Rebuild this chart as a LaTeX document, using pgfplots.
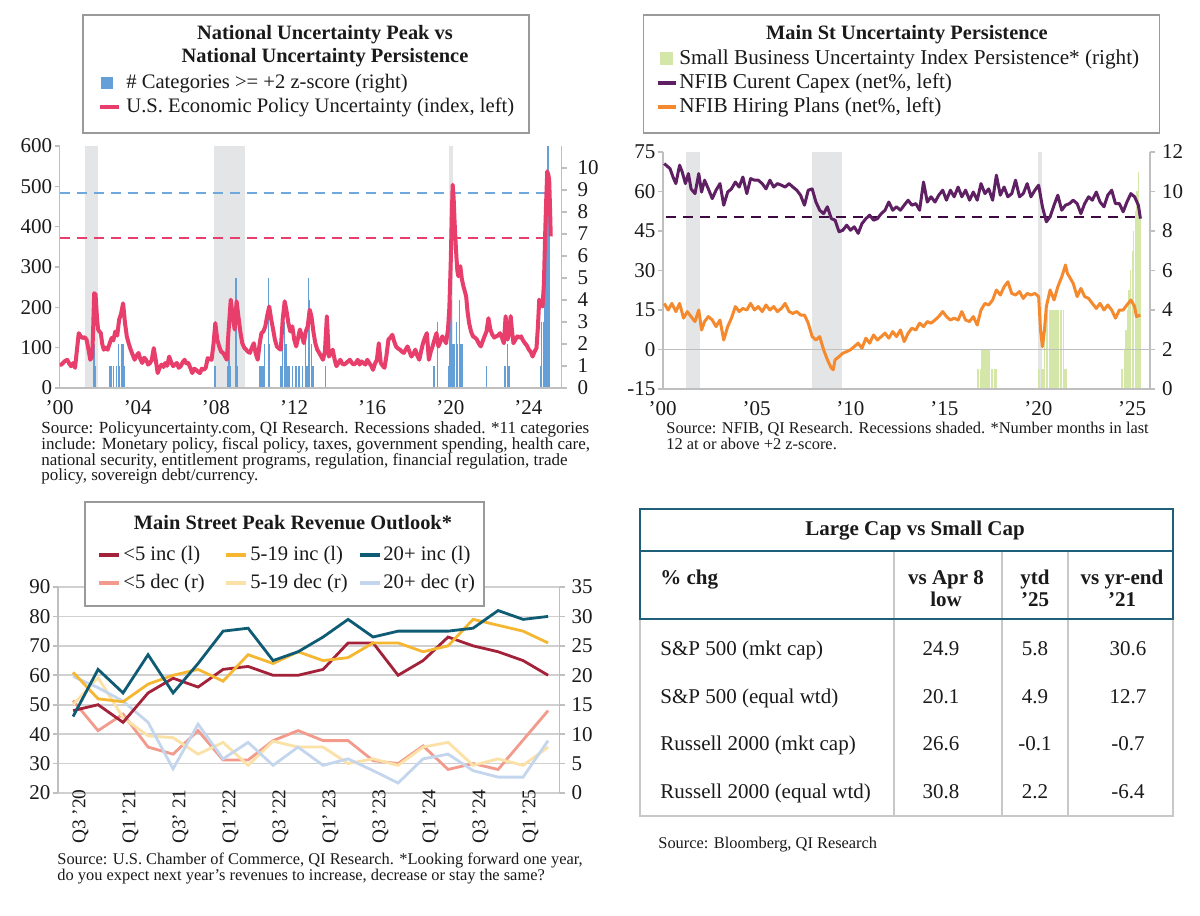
\documentclass[border=0pt]{standalone}
\usepackage{fontspec}
\setmainfont{Liberation Serif}
\usepackage{pgfplots}
\pgfplotsset{compat=1.18}
\definecolor{epu}{HTML}{E83E6C}
\definecolor{barblue}{HTML}{64A0D7}
\definecolor{dashblue}{HTML}{6FA8DC}
\definecolor{recgray}{HTML}{E4E5E7}
\definecolor{axgray}{HTML}{BFBFBF}
\definecolor{gridgray}{HTML}{D0D0D0}
\definecolor{legbord}{HTML}{9A9A9A}
\definecolor{capex}{HTML}{5E1F63}
\definecolor{capdash}{HTML}{3C0A40}
\definecolor{hire}{HTML}{F5892E}
\definecolor{sbgreen}{HTML}{D4E7A9}
\definecolor{cdred}{HTML}{A3223A}
\definecolor{cyel}{HTML}{F5B731}
\definecolor{cteal}{HTML}{0F5B73}
\definecolor{csal}{HTML}{F29A8C}
\definecolor{clyel}{HTML}{FCE1A6}
\definecolor{clblue}{HTML}{C4D6ED}
\definecolor{tteal}{HTML}{1E5F7C}
\definecolor{tgray}{HTML}{C8C8C8}
\definecolor{txt}{HTML}{1A1A1A}
\newcommand{\fT}{\fontsize{10.5}{12}\selectfont}
\newcommand{\fL}{\fontsize{10.3}{11}\selectfont}
\newcommand{\fLtwo}{\fontsize{10.6}{11}\selectfont}
\newcommand{\fLb}{\fontsize{10.2}{11}\selectfont\bfseries}
\newcommand{\fSa}{\fontsize{8.5}{9}\selectfont}
\newcommand{\fS}{\fontsize{8.2}{9}\selectfont}
\newcommand{\fTab}{\fontsize{10.5}{12}\selectfont}
\pgfplotsset{
  qibase/.style={scale only axis, anchor=south west,
    axis line style={draw=axgray, line width=0.8pt},
    tick style={draw=axgray, line width=0.8pt},
    tick align=outside, major tick length=2.5pt,
    ticklabel style={font=\fT, text=txt},
    /pgf/number format/assume math mode=true,
    xtick style={draw=none},
  },
  qileft/.style={yticklabel style={inner xsep=1pt}},
}
\begin{document}
\begin{tikzpicture}
\path[use as bounding box] (0,0) rectangle (600pt,458pt);
\fill[white] (0,0) rectangle (600pt,458pt);

% ================= Panel 1 =================
\begin{axis}[qibase, at={(29.8pt,264pt)}, width=250.95pt, height=121pt,
  xmin=2000, xmax=2025.69, ymin=0, ymax=11,
  axis x line=none, axis y line*=right, ytick={0,1,...,10},
  yticklabel style={xshift=2pt}]
\addplot[fill=recgray, draw=none] coordinates {(2001.32,11)(2001.97,11)} \closedcycle;
\addplot[fill=recgray, draw=none] coordinates {(2007.91,11)(2009.47,11)} \closedcycle;
\addplot[fill=recgray, draw=none] coordinates {(2019.92,11)(2020.14,11)} \closedcycle;
\addplot[ycomb, draw=barblue, line width=0.7pt, mark=none] coordinates {
(2001.77,2)(2001.85,1)
(2002.58,1)(2002.67,1)(2002.75,1)(2002.92,1)(2003.0,2)(2003.08,1)(2003.17,2)(2003.25,2)(2003.33,1)
(2007.95,1)
(2008.58,1)(2008.67,2)(2008.75,1)(2009.03,5)(2009.1,1)
(2010.25,1)(2010.33,1)(2010.42,1)(2010.5,2)(2010.68,5)(2010.75,2)
(2011.33,1)(2011.42,2)(2011.5,3)(2011.58,2)(2011.67,1)(2011.75,1)(2011.92,1)
(2012.1,1)(2012.25,1)(2012.42,1)(2012.58,2)(2012.67,1)(2012.73,5)(2012.8,4)(2012.88,2)(2012.97,1)
(2013.62,1)
(2019.16,1)(2019.33,3)
(2019.9,1)(2019.98,5)(2020.06,4)(2020.14,2)(2020.22,2)(2020.3,3)(2020.38,2)(2020.46,4)(2020.54,2)(2020.62,2)
(2021.86,1)
(2022.8,1)(2022.92,2)(2023.0,1)
(2024.6,1)(2024.68,3)(2024.76,3)(2024.84,6)(2024.92,7)(2025.0,11)(2025.08,7)
};
\end{axis}
\begin{axis}[qibase, qileft, at={(29.8pt,264pt)}, width=250.95pt, height=121pt,
  xmin=2000, xmax=2025.69, ymin=0, ymax=600,
  axis x line*=bottom, axis y line*=left, ytick={0,100,...,600},
  xtick={2000,2004,...,2024}, xticklabels={'00,'04,'08,'12,'16,'20,'24}]
\addplot[dashblue, line width=1pt, dash pattern=on 5pt off 3.5pt] coordinates {(2000,483)(2024.9,483)};
\addplot[epu, line width=1pt, dash pattern=on 5pt off 3.5pt] coordinates {(2000,372)(2025.14,372)};
\addplot[epu, line width=2pt, line join=round] coordinates {
(2000.00,58)(2000.10,58)(2000.25,66)(2000.39,70)(2000.50,60)(2000.59,54)(2000.70,62)(2000.79,50)(2000.90,100)(2000.98,136)
(2001.08,128)(2001.18,124)(2001.28,126)(2001.38,120)(2001.48,95)(2001.57,70)(2001.67,79)(2001.72,150)(2001.77,235)(2001.84,232)(2001.92,170)(2001.97,145)
(2002.04,140)(2002.11,136)(2002.18,110)(2002.26,95)(2002.36,100)(2002.46,95)(2002.56,110)(2002.66,124)(2002.75,118)(2002.85,140)(2002.95,130)
(2003.05,170)(2003.15,185)(2003.25,210)(2003.35,160)(2003.44,128)(2003.54,110)(2003.64,95)(2003.74,82)(2003.84,70)(2003.94,80)
(2004.04,87)(2004.13,72)(2004.23,62)(2004.33,75)(2004.43,70)(2004.53,58)(2004.63,62)(2004.72,70)(2004.82,99)(2004.92,70)
(2005.02,37)(2005.12,50)(2005.22,58)(2005.32,52)(2005.41,62)(2005.51,55)(2005.61,78)(2005.71,64)(2005.81,54)(2005.90,58)
(2006.00,62)(2006.10,50)(2006.20,54)(2006.30,64)(2006.40,70)(2006.50,60)(2006.59,62)(2006.69,50)(2006.79,37)(2006.89,48)(2006.99,45)
(2007.09,40)(2007.19,37)(2007.28,48)(2007.38,45)(2007.48,50)(2007.58,74)(2007.68,72)(2007.78,70)(2007.88,110)(2007.97,161)
(2008.07,120)(2008.17,103)(2008.27,90)(2008.37,87)(2008.47,78)(2008.56,70)(2008.66,150)(2008.76,219)(2008.86,178)(2008.96,145)
(2009.06,215)(2009.15,178)(2009.25,140)(2009.35,111)(2009.45,100)(2009.55,95)(2009.64,90)(2009.74,87)(2009.84,100)(2009.94,111)
(2010.04,85)(2010.14,70)(2010.24,110)(2010.33,136)(2010.43,140)(2010.53,153)(2010.63,180)(2010.73,202)(2010.83,170)(2010.93,145)
(2011.02,120)(2011.12,103)(2011.22,98)(2011.32,95)(2011.42,170)(2011.52,215)(2011.62,190)(2011.71,161)(2011.81,140)(2011.91,153)
(2012.01,120)(2012.11,103)(2012.21,125)(2012.30,145)(2012.40,130)(2012.50,111)(2012.60,140)(2012.70,153)(2012.80,194)(2012.89,178)(2012.99,140)
(2013.09,111)(2013.19,95)(2013.29,87)(2013.39,78)(2013.48,70)(2013.58,90)(2013.68,178)(2013.78,78)(2013.88,85)(2013.98,95)
(2014.08,70)(2014.17,54)(2014.27,62)(2014.37,70)(2014.47,60)(2014.57,58)(2014.67,62)(2014.76,66)(2014.86,70)(2014.96,62)
(2015.06,58)(2015.16,62)(2015.26,70)(2015.36,58)(2015.45,66)(2015.55,62)(2015.65,58)(2015.75,70)(2015.85,62)(2015.95,55)
(2016.04,45)(2016.14,60)(2016.24,70)(2016.34,111)(2016.44,62)(2016.54,55)(2016.63,50)(2016.73,80)(2016.83,120)(2016.93,125)
(2017.03,132)(2017.13,115)(2017.22,103)(2017.32,98)(2017.42,95)(2017.52,90)(2017.62,87)(2017.71,95)(2017.81,103)(2017.91,90)
(2018.01,78)(2018.11,85)(2018.21,95)(2018.31,80)(2018.41,70)(2018.50,90)(2018.60,111)(2018.70,125)(2018.80,136)(2018.90,70)
(2019.00,90)(2019.09,103)(2019.19,120)(2019.29,136)(2019.39,103)(2019.49,115)(2019.59,128)(2019.69,120)(2019.78,111)(2019.88,145)(2019.95,200)
(2020.02,310)(2020.07,420)(2020.12,504)(2020.17,470)(2020.22,409)(2020.27,360)(2020.31,326)(2020.36,290)(2020.41,277)(2020.46,290)(2020.51,302)
(2020.59,270)(2020.67,252)(2020.74,240)(2020.81,227)(2020.88,190)(2020.96,161)
(2021.06,140)(2021.16,128)(2021.26,125)(2021.36,120)(2021.46,110)(2021.56,103)(2021.65,115)(2021.75,128)(2021.85,140)(2021.95,173)
(2022.05,145)(2022.15,132)(2022.25,125)(2022.34,128)(2022.44,130)(2022.54,136)(2022.64,125)(2022.74,111)(2022.83,178)(2022.93,120)
(2023.01,140)(2023.09,178)(2023.16,140)(2023.23,111)(2023.33,120)(2023.43,128)(2023.52,125)(2023.62,128)(2023.72,118)(2023.82,111)(2023.92,105)
(2024.02,95)(2024.11,90)(2024.21,78)(2024.31,90)(2024.41,99)(2024.48,150)(2024.55,219)(2024.63,210)(2024.72,202)(2024.79,260)(2024.86,392)(2024.91,470)(2024.96,537)
(2025.01,530)(2025.06,516)(2025.10,450)(2025.14,376)
};
\end{axis}

% ================= Panel 2 =================
\begin{axis}[qibase, at={(331.35pt,263.5pt)}, width=243.65pt, height=118.5pt,
  xmin=2000, xmax=2025.95, ymin=0, ymax=12,
  axis x line=none, axis y line*=right, ytick={0,2,...,12}]
\addplot[fill=recgray, draw=none] coordinates {(2001.25,12)(2001.98,12)} \closedcycle;
\addplot[fill=recgray, draw=none] coordinates {(2007.93,12)(2009.53,12)} \closedcycle;
\addplot[fill=recgray, draw=none] coordinates {(2019.98,12)(2020.2,12)} \closedcycle;
\addplot[ycomb, draw=sbgreen, line width=0.65pt, mark=none] coordinates {
(2016.75,1)(2016.83,1)(2016.92,1)(2017.0,2)(2017.08,2)(2017.17,2)(2017.25,2)(2017.33,2)(2017.42,2)(2017.5,1)(2017.58,1)(2017.67,1)(2017.75,1)
(2020.0,1)(2020.08,1)(2020.17,1)(2020.25,1)(2020.33,3)(2020.42,4)(2020.5,4)(2020.58,4)(2020.67,4)(2020.75,4)(2020.83,4)(2020.92,4)(2021.0,4)(2021.08,4)(2021.17,4)(2021.25,4)(2021.33,4)(2021.42,1)(2021.5,1)
(2024.42,1)(2024.5,1)(2024.58,2)(2024.67,3)(2024.75,4)(2024.83,5)(2024.92,6)(2025.0,7)(2025.08,8)(2025.17,9)(2025.25,10)(2025.33,11)(2025.42,9)
};
\end{axis}
\begin{axis}[qibase, qileft, at={(331.35pt,263.5pt)}, width=243.65pt, height=118.5pt,
  xmin=2000, xmax=2025.95, ymin=-15, ymax=75,
  axis x line*=bottom, axis y line*=left, ytick={-15,0,...,75},
  xtick={2000,2005,...,2025}, xticklabels={'00,'05,'10,'15,'20,'25}]
\addplot[axgray, line width=0.8pt] coordinates {(2000,0)(2025.95,0)};
\addplot[capdash, line width=1pt, dash pattern=on 5pt off 3.5pt] coordinates {(2000.2,50.4)(2025.3,50.4)};
\addplot[capex, line width=1.5pt, line join=round] coordinates {
(2000.08,70.6)(2000.29,69.3)(2000.39,68.7)(2000.55,65.5)(2000.70,63)(2000.90,70)(2001.04,67.4)(2001.21,63)(2001.37,66.8)(2001.51,61)
(2001.72,59.2)(2001.92,66.8)(2002.07,59.8)(2002.23,64.3)(2002.43,61)(2002.64,57.3)(2002.84,60.5)(2003.05,63)(2003.25,54.8)(2003.46,59.8)
(2003.66,61)(2003.87,63.6)(2004.07,61.7)(2004.27,65.5)(2004.48,59.2)(2004.68,64.9)(2004.89,64.3)(2005.09,64.3)(2005.30,63)(2005.50,61)
(2005.71,64.3)(2005.91,61.7)(2006.11,63)(2006.32,62.4)(2006.52,61.7)(2006.73,63)(2006.93,61.7)(2007.14,60.5)(2007.34,58.6)(2007.55,54.8)
(2007.75,60.5)(2007.96,61)(2008.16,56)(2008.36,52.9)(2008.57,51.6)(2008.77,54.2)(2008.98,49.7)(2009.18,49.1)(2009.39,44.7)(2009.59,45.3)
(2009.80,47.2)(2010.00,45.3)(2010.20,46.6)(2010.41,44.1)(2010.61,47.8)(2010.82,49.7)(2011.02,51)(2011.23,49.1)(2011.43,49.7)(2011.64,51.6)
(2011.84,52.9)(2012.04,56)(2012.25,52.9)(2012.45,54.2)(2012.66,52.9)(2012.86,54.8)(2013.07,56.7)(2013.27,54.8)(2013.48,55.4)(2013.68,52.9)
(2013.89,63.6)(2014.09,56)(2014.29,58)(2014.50,56)(2014.70,58.6)(2014.91,60.5)(2015.11,56.7)(2015.32,60.5)(2015.52,58)(2015.73,61.7)
(2015.93,58)(2016.13,60.5)(2016.34,56.7)(2016.54,59.8)(2016.75,56.7)(2016.95,63)(2017.16,59.2)(2017.36,61)(2017.57,56.7)(2017.77,66.2)
(2017.98,58.6)(2018.18,61.7)(2018.38,58)(2018.59,59.2)(2018.79,64.3)(2019.00,58)(2019.20,59.2)(2019.41,63)(2019.61,58)(2019.82,60.5)
(2020.02,62.4)(2020.22,54.2)(2020.43,48.5)(2020.63,50.4)(2020.84,54.8)(2021.04,58.6)(2021.25,52.9)(2021.45,54.8)(2021.66,55.4)(2021.86,56.7)
(2022.07,55.4)(2022.27,51.6)(2022.47,55.4)(2022.68,58)(2022.88,56.7)(2023.09,59.8)(2023.29,56)(2023.50,54.2)(2023.70,58.6)(2023.91,60.5)
(2024.11,55.4)(2024.32,55.4)(2024.52,52.3)(2024.72,56)(2024.93,59.2)(2025.13,58)(2025.33,54.8)(2025.44,49.7)
};
\addplot[hire, line width=1.5pt, line join=round] coordinates {
(2000.08,17.5)(2000.29,15)(2000.49,17.5)(2000.70,14.4)(2000.90,17.5)(2001.11,11.9)(2001.31,14.4)(2001.51,12.5)(2001.72,10.6)(2001.92,15)
(2002.07,7.4)(2002.23,10.6)(2002.43,12.5)(2002.64,11.2)(2002.84,8.7)(2003.05,11.2)(2003.25,3.6)(2003.46,8.7)(2003.66,11.9)(2003.87,16.3)
(2004.07,14.4)(2004.27,15.6)(2004.48,15)(2004.68,17.5)(2004.89,15)(2005.09,16.3)(2005.30,14.4)(2005.50,16.9)(2005.71,15)(2005.91,16.3)
(2006.11,14.4)(2006.32,15.6)(2006.52,17.5)(2006.73,14.4)(2006.93,13.7)(2007.14,14.4)(2007.34,13.1)(2007.55,13.1)(2007.75,10)(2007.96,4.9)
(2008.16,3.6)(2008.36,4.9)(2008.57,-0.1)(2008.77,-3.9)(2008.98,-7.1)(2009.08,-7.7)(2009.18,-3.9)(2009.39,-2.7)(2009.59,-1.4)(2009.80,-0.8)
(2010.00,-0.1)(2010.20,1.1)(2010.41,2.4)(2010.61,0.5)(2010.82,4.3)(2011.02,2.4)(2011.23,5.5)(2011.43,3.6)(2011.64,4.9)(2011.84,6.2)
(2012.04,4.3)(2012.25,6.8)(2012.45,4.9)(2012.66,7.4)(2012.86,3)(2013.07,6.2)(2013.27,8.1)(2013.48,7.4)(2013.68,10)(2013.89,8.7)
(2014.09,10.6)(2014.29,10)(2014.50,11.2)(2014.70,12.5)(2014.91,14.4)(2015.11,12.5)(2015.32,11.2)(2015.52,11.9)(2015.73,11.2)(2015.93,14.4)
(2016.13,11.2)(2016.34,10.6)(2016.54,12.5)(2016.75,9.3)(2016.95,15)(2017.16,17.5)(2017.36,16.9)(2017.57,18.8)(2017.77,22.6)(2017.98,20.7)
(2018.18,23.8)(2018.38,25.7)(2018.59,21.3)(2018.79,20.7)(2019.00,22)(2019.20,19.4)(2019.41,21.3)(2019.61,20.7)(2019.82,21.3)(2020.02,20.1)
(2020.12,7.4)(2020.22,1.1)(2020.33,7.4)(2020.43,16.3)(2020.63,22.6)(2020.84,18.8)(2021.04,23.8)(2021.25,27.6)(2021.45,32.1)(2021.55,28.9)
(2021.66,27.6)(2021.86,25.1)(2022.07,20.1)(2022.27,23.2)(2022.47,20.1)(2022.68,19.4)(2022.88,17.5)(2023.09,15.6)(2023.29,17.5)(2023.50,15)
(2023.70,16.9)(2023.91,15)(2024.11,11.9)(2024.32,15)(2024.52,15)(2024.72,16.9)(2024.93,18.8)(2025.13,16.3)(2025.23,12.5)(2025.44,13.1)
};
\end{axis}

% ================= Panel 3 =================
\begin{axis}[qibase, at={(28.85pt,61.5pt)}, width=250.95pt, height=103pt,
  xmin=-0.615, xmax=19.46, ymin=0, ymax=35,
  axis x line=none, axis y line*=right, ytick={0,5,...,35},
  ymajorgrids, major grid style={draw=gridgray, line width=0.8pt}]
\addplot[csal, line width=1.4pt] coordinates {
(0,15.7)(1,10.6)(2,13.4)(3,7.8)(4,6.6)(5,10.6)(6,5.6)(7,5.6)(8,8.9)(9,10.6)
(10,8.9)(11,8.9)(12,5.5)(13,5)(14,8)(15,4)(16,5)(17,4)(18,9)(19,14)};
\addplot[clyel, line width=1.4pt] coordinates {
(0,15)(1,19.6)(2,12.8)(3,9.7)(4,9.4)(5,6.6)(6,8.6)(7,4.7)(8,8.8)(9,7.8)
(10,7.8)(11,5)(12,5.8)(13,4.7)(14,7.8)(15,8.6)(16,4.7)(17,5.8)(18,4.7)(19,7.8)};
\addplot[clblue, line width=1.4pt] coordinates {
(0,19.8)(1,17.9)(2,15.6)(3,12)(4,4.1)(5,11.7)(6,5.8)(7,8.6)(8,4.7)(9,7.8)
(10,4.7)(11,5.8)(12,3.8)(13,1.7)(14,5.8)(15,6.6)(16,3.8)(17,2.7)(18,2.7)(19,8.9)};
\end{axis}
\begin{axis}[qibase, qileft, at={(28.85pt,61.5pt)}, width=250.95pt, height=103pt,
  xmin=-0.615, xmax=19.46, ymin=20, ymax=90,
  axis x line*=bottom, axis y line*=left, ytick={20,30,...,90},
  x axis line style={draw=none},
  xtick={0.3,2.3,4.3,6.3,8.3,10.3,12.3,14.3,16.3,18.3},
  xticklabels={{Q3 '20},{Q1 '21},{Q3' 21},{Q1 '22},{Q3 '22},{Q1' 23},{Q3 '23},{Q1 '24},{Q3 '24},{Q1 '25}},
  xticklabel style={rotate=90, anchor=east, inner sep=0.5pt, xshift=5pt, font=\fontsize{9.7}{12}\selectfont}]
\addplot[cdred, line width=1.4pt] coordinates {
(0,48)(1,50)(2,44)(3,54)(4,59)(5,56)(6,62)(7,63)(8,60)(9,60)
(10,62)(11,71)(12,71)(13,60)(14,65)(15,73)(16,70)(17,68)(18,65)(19,60)};
\addplot[cyel, line width=1.4pt] coordinates {
(0,61)(1,52)(2,51)(3,57)(4,60)(5,62)(6,58)(7,67)(8,64)(9,68)
(10,65)(11,66)(12,71)(13,71)(14,68)(15,70)(16,79)(17,77)(18,75)(19,71)};
\addplot[cteal, line width=1.4pt] coordinates {
(0,46)(1,62)(2,54)(3,67)(4,54)(5,64)(6,75)(7,76)(8,65)(9,68)
(10,73)(11,79)(12,73)(13,75)(14,75)(15,75)(16,76)(17,82)(18,79)(19,80)};
\end{axis}

% ================= Legends =================
\draw[legbord, line width=0.9pt, fill=white] (41.5pt,391.5pt) rectangle (264.5pt,450.5pt);
\node[font=\fLb, text=txt, anchor=base, inner sep=0] at (162.5pt,438pt) {National Uncertainty Peak vs};
\node[font=\fLb, text=txt, anchor=base, inner sep=0] at (162.5pt,426.5pt) {National Uncertainty Persistence};
\fill[barblue] (50.5pt,413.5pt) rectangle (56.5pt,419.5pt);
\node[font=\fL, text=txt, anchor=base west, inner sep=0] at (63pt,413.5pt) {\# Categories >= +2 z-score (right)};
\draw[epu, line width=2pt] (50pt,404.5pt) -- (59.5pt,404.5pt);
\node[font=\fL, text=txt, anchor=base west, inner sep=0] at (63pt,401.5pt) {U.S. Economic Policy Uncertainty (index, left)};

\draw[legbord, line width=0.9pt, fill=white] (321.75pt,391.5pt) rectangle (579.75pt,450.5pt);
\node[font=\fLb, text=txt, anchor=base, inner sep=0] at (453.5pt,438pt) {Main St Uncertainty Persistence};
\fill[sbgreen] (330pt,425.5pt) rectangle (336.5pt,432pt);
\node[font=\fLtwo, text=txt, anchor=base west, inner sep=0] at (339.5pt,425.5pt) {Small Business Uncertainty Index Persistence* (right)};
\draw[capex, line width=2pt] (329pt,416.5pt) -- (338pt,416.5pt);
\node[font=\fLtwo, text=txt, anchor=base west, inner sep=0] at (339.5pt,413.5pt) {NFIB Curent Capex (net\%, left)};
\draw[hire, line width=2pt] (329pt,404.5pt) -- (338pt,404.5pt);
\node[font=\fLtwo, text=txt, anchor=base west, inner sep=0] at (339.5pt,401.5pt) {NFIB Hiring Plans (net\%, left)};

\draw[legbord, line width=0.9pt, fill=white] (42.5pt,155pt) rectangle (242pt,207pt);
\node[font=\fLb, text=txt, anchor=base, inner sep=0] at (146.5pt,193pt) {Main Street Peak Revenue Outlook*};
\draw[cdred, line width=2pt] (49.5pt,180.5pt) -- (59.5pt,180.5pt);
\node[font=\fL, text=txt, anchor=base west, inner sep=0] at (61.5pt,177.5pt) {<5 inc (l)};
\draw[cyel, line width=2pt] (113pt,180.5pt) -- (123pt,180.5pt);
\node[font=\fL, text=txt, anchor=base west, inner sep=0] at (125pt,177.5pt) {5-19 inc (l)};
\draw[cteal, line width=2pt] (180pt,180.5pt) -- (190pt,180.5pt);
\node[font=\fL, text=txt, anchor=base west, inner sep=0] at (191.5pt,177.5pt) {20+ inc (l)};
\draw[csal, line width=2pt] (49.5pt,166.5pt) -- (59.5pt,166.5pt);
\node[font=\fL, text=txt, anchor=base west, inner sep=0] at (61.5pt,163.5pt) {<5 dec (r)};
\draw[clyel, line width=2pt] (113pt,166.5pt) -- (123pt,166.5pt);
\node[font=\fL, text=txt, anchor=base west, inner sep=0] at (125pt,163.5pt) {5-19 dec (r)};
\draw[clblue, line width=2pt] (180pt,166.5pt) -- (190pt,166.5pt);
\node[font=\fL, text=txt, anchor=base west, inner sep=0] at (191.5pt,163.5pt) {20+ dec (r)};

% ================= Sources =================
\node[font=\fSa, text=txt, anchor=base west, inner sep=0] at (20.5pt,241pt) {Source: Policyuncertainty.com, QI Research. Recessions shaded. *11 categories};
\node[font=\fSa, text=txt, anchor=base west, inner sep=0] at (20.5pt,233pt) {include: Monetary policy, fiscal policy, taxes, government spending, health care,};
\node[font=\fSa, text=txt, anchor=base west, inner sep=0] at (20.5pt,225pt) {national security, entitlement programs, regulation, financial regulation, trade};
\node[font=\fSa, text=txt, anchor=base west, inner sep=0] at (20.5pt,217.5pt) {policy, sovereign debt/currency.};
\node[font=\fS, text=txt, anchor=base west, inner sep=0] at (333pt,241pt) {Source: NFIB, QI Research. Recessions shaded. *Number months in last};
\node[font=\fS, text=txt, anchor=base west, inner sep=0] at (333pt,233pt) {12 at or above +2 z-score.};
\node[font=\fS, text=txt, anchor=base west, inner sep=0] at (28.5pt,25.5pt) {Source: U.S. Chamber of Commerce, QI Research. *Looking forward one year,};
\node[font=\fS, text=txt, anchor=base west, inner sep=0] at (28.5pt,17.5pt) {do you expect next year's revenues to increase, decrease or stay the same?};
\node[font=\fS, text=txt, anchor=base west, inner sep=0] at (329pt,33.5pt) {Source: Bloomberg, QI Research};

% ================= Table =================
\draw[tgray, line width=1pt] (447pt,50pt) -- (447pt,182.5pt);
\draw[tgray, line width=1pt] (501pt,50pt) -- (501pt,182.5pt);
\draw[tgray, line width=1pt] (534pt,50pt) -- (534pt,182.5pt);
\draw[tgray, line width=1pt] (319.8pt,148.5pt) -- (319.8pt,50pt) -- (586.5pt,50pt) -- (586.5pt,148.5pt);
\draw[tteal, line width=1.1pt] (319.8pt,148.5pt) rectangle (586.5pt,203.5pt);
\draw[tteal, line width=1.1pt] (319.8pt,182.5pt) -- (586.5pt,182.5pt);
\node[font=\fTab\bfseries, text=txt, anchor=base, inner sep=0] at (457.5pt,190pt) {Large Cap vs Small Cap};
\node[font=\fTab\bfseries, text=txt, anchor=base west, inner sep=0] at (330pt,165.5pt) {\% chg};
\node[font=\fTab\bfseries, text=txt, anchor=base, inner sep=0] at (473pt,165.5pt) {vs Apr 8};
\node[font=\fTab\bfseries, text=txt, anchor=base, inner sep=0] at (473pt,154.5pt) {low};
\node[font=\fTab\bfseries, text=txt, anchor=base, inner sep=0] at (517.5pt,165.5pt) {ytd};
\node[font=\fTab\bfseries, text=txt, anchor=base, inner sep=0] at (517.5pt,154.5pt) {'25};
\node[font=\fTab\bfseries, text=txt, anchor=base, inner sep=0] at (561pt,165.5pt) {vs yr-end};
\node[font=\fTab\bfseries, text=txt, anchor=base, inner sep=0] at (561pt,154.5pt) {'21};
\foreach \yy/\lab/\a/\b/\c in {130/S\&P 500 (mkt cap)/24.9/5.8/30.6, 106/S\&P 500 (equal wtd)/20.1/4.9/12.7, 82.5/Russell 2000 (mkt cap)/26.6/-0.1/-0.7, 58.5/Russell 2000 (equal wtd)/30.8/2.2/-6.4}{
  \node[font=\fTab, text=txt, anchor=base west, inner sep=0] at (330pt,\yy pt) {\lab};
  \node[font=\fTab, text=txt, anchor=base, inner sep=0] at (470.5pt,\yy pt) {\a};
  \node[font=\fTab, text=txt, anchor=base, inner sep=0] at (517.5pt,\yy pt) {\b};
  \node[font=\fTab, text=txt, anchor=base, inner sep=0] at (564pt,\yy pt) {\c};
}
\end{tikzpicture}
\end{document}
